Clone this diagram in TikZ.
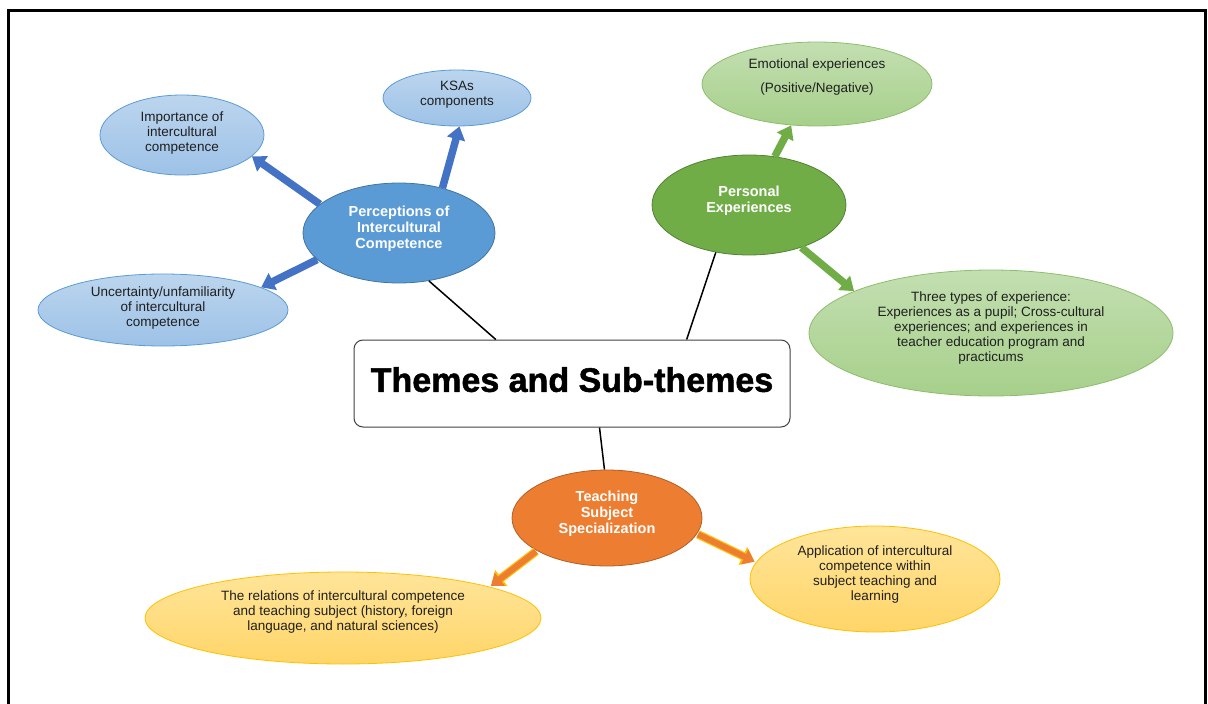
\documentclass[tikz,border=0pt]{standalone}
\usepackage{fontspec}
\setmainfont{Liberation Sans}
\newfontfamily\titlefont[FakeBold=1.5]{Liberation Sans Bold}
\usetikzlibrary{shapes.geometric,arrows.meta}
\definecolor{bluedark}{HTML}{5B9BD5}
\definecolor{bluetop}{HTML}{BCD5EE}
\definecolor{bluebot}{HTML}{9DC2E7}
\definecolor{blueline}{HTML}{4472C4}
\definecolor{greendark}{HTML}{70AD47}
\definecolor{greentop}{HTML}{C3DFB1}
\definecolor{greenbot}{HTML}{A7D08B}
\definecolor{orangedark}{HTML}{ED7D31}
\definecolor{orangetop}{HTML}{FFE59A}
\definecolor{orangebot}{HTML}{FFD568}
\definecolor{goldline}{HTML}{FFC000}
\begin{document}
\begin{tikzpicture}[x=1pt,y=-1pt,
    bubble/.style={ellipse, inner sep=0pt, line width=0.8pt},
    lightblue/.style={bubble, draw=bluedark, top color=bluetop, bottom color=bluebot},
    lightgreen/.style={bubble, draw=greendark!80, top color=greentop, bottom color=greenbot},
    lightorange/.style={bubble, draw=goldline, top color=orangetop, bottom color=orangebot},
    theme/.style={bubble, draw=#1!75!black, fill=#1},
    txt/.style={align=center, inner sep=0pt, text=black!88, font=\fontsize{13.5}{15}\selectfont},
    themetxt/.style={align=center, inner sep=0pt, text=white, font=\bfseries\fontsize{14.5}{16}\selectfont},
    link/.style={line width=1.5pt},
    blockarrow/.style={draw=#1, line width=7.5pt, -{Triangle[length=13pt,width=18pt]}},
    orangearrow/.style={draw=orangedark, line width=6pt, shorten >=1.5pt, shorten <=1pt,
      -{Triangle[length=11pt,width=16pt]},
      preaction={draw=goldline, line width=8.5pt, -{Triangle[length=13pt,width=19pt]}}}]
    \useasboundingbox (0,0) rectangle (1208,704);
    \draw[line width=3pt] (8,706) -- (8,10) -- (1205,10) -- (1205,706);
    \node[draw=black!75, line width=1pt, rounded corners=9pt, minimum width=436pt, minimum height=87pt, inner sep=0pt,
      font=\titlefont\fontsize{34}{40}\selectfont] (title) at (572,383.5) {\raisebox{8pt}{Themes and Sub-themes}};
    \node[theme=bluedark, minimum width=192pt, minimum height=100pt] (percep) at (399,233) {};
    \node[themetxt] (percep-t) at (399,229) {Perceptions of\\Intercultural\\Competence};
    \node[lightblue, minimum width=164pt, minimum height=80pt] (imp) at (182,135) {};
    \node[txt] (imp-t) at (182,133) {Importance of\\intercultural\\competence};
    \node[lightblue, minimum width=148pt, minimum height=56pt] (ksa) at (457,98) {};
    \node[txt] (ksa-t) at (457,95) {KSAs\\components};
    \node[lightblue, minimum width=250pt, minimum height=72pt] (unc) at (163,310) {};
    \node[txt] (unc-t) at (163,308) {Uncertainty/unfamiliarity\\of intercultural\\competence};
    \node[theme=greendark, minimum width=194pt, minimum height=100pt] (pers) at (749,205) {};
    \node[themetxt] (pers-t) at (749,201) {Personal\\Experiences};
    \node[lightgreen, minimum width=230pt, minimum height=84pt] (emo) at (817,84) {};
    \node[txt, font=\fontsize{13.5}{24}\selectfont] (emo-t) at (817,77) {Emotional experiences\\(Positive/Negative)};
    \node[lightgreen, minimum width=364pt, minimum height=126pt] (three) at (991,333) {};
    \node[txt] (three-t) at (991,328) {Three types of experience:\\Experiences as a pupil; Cross-cultural\\experiences; and experiences in\\teacher education program and\\practicums};
    \node[theme=orangedark, minimum width=190pt, minimum height=96pt] (teach) at (607,518) {};
    \node[themetxt] (teach-t) at (607,514) {Teaching\\Subject\\Specialization};
    \node[lightorange, minimum width=396pt, minimum height=92pt] (rel) at (343,618) {};
    \node[txt] (rel-t) at (343,612) {The relations of intercultural competence\\and teaching subject (history, foreign\\language, and natural sciences)};
    \node[lightorange, minimum width=250pt, minimum height=106pt] (app) at (875,579) {};
    \node[txt] (app-t) at (875,574.5) {Application of intercultural\\competence within\\subject teaching and\\learning};
    \draw[link] (percep.-58) -- (title.150.5);
    \draw[link] (pers.235) -- (title.21.8);
    \draw[link] (title.-58.2) -- (teach.93.6);
    \draw[blockarrow=blueline] (percep.160) -- (imp.-17);
    \draw[blockarrow=blueline] (percep.46) -- (ksa.-85);
    \draw[blockarrow=blueline] (percep.198) -- (unc.13);
    \draw[blockarrow=greendark] (pers.62.5) -- (emo.-122);
    \draw[blockarrow=greendark] (pers.-39) -- (three.163);
    \draw[orangearrow] (teach.205.6) -- (rel.12);
    \draw[orangearrow] (teach.-10.6) -- (app.172.4);
  \end{tikzpicture}
\end{document}
